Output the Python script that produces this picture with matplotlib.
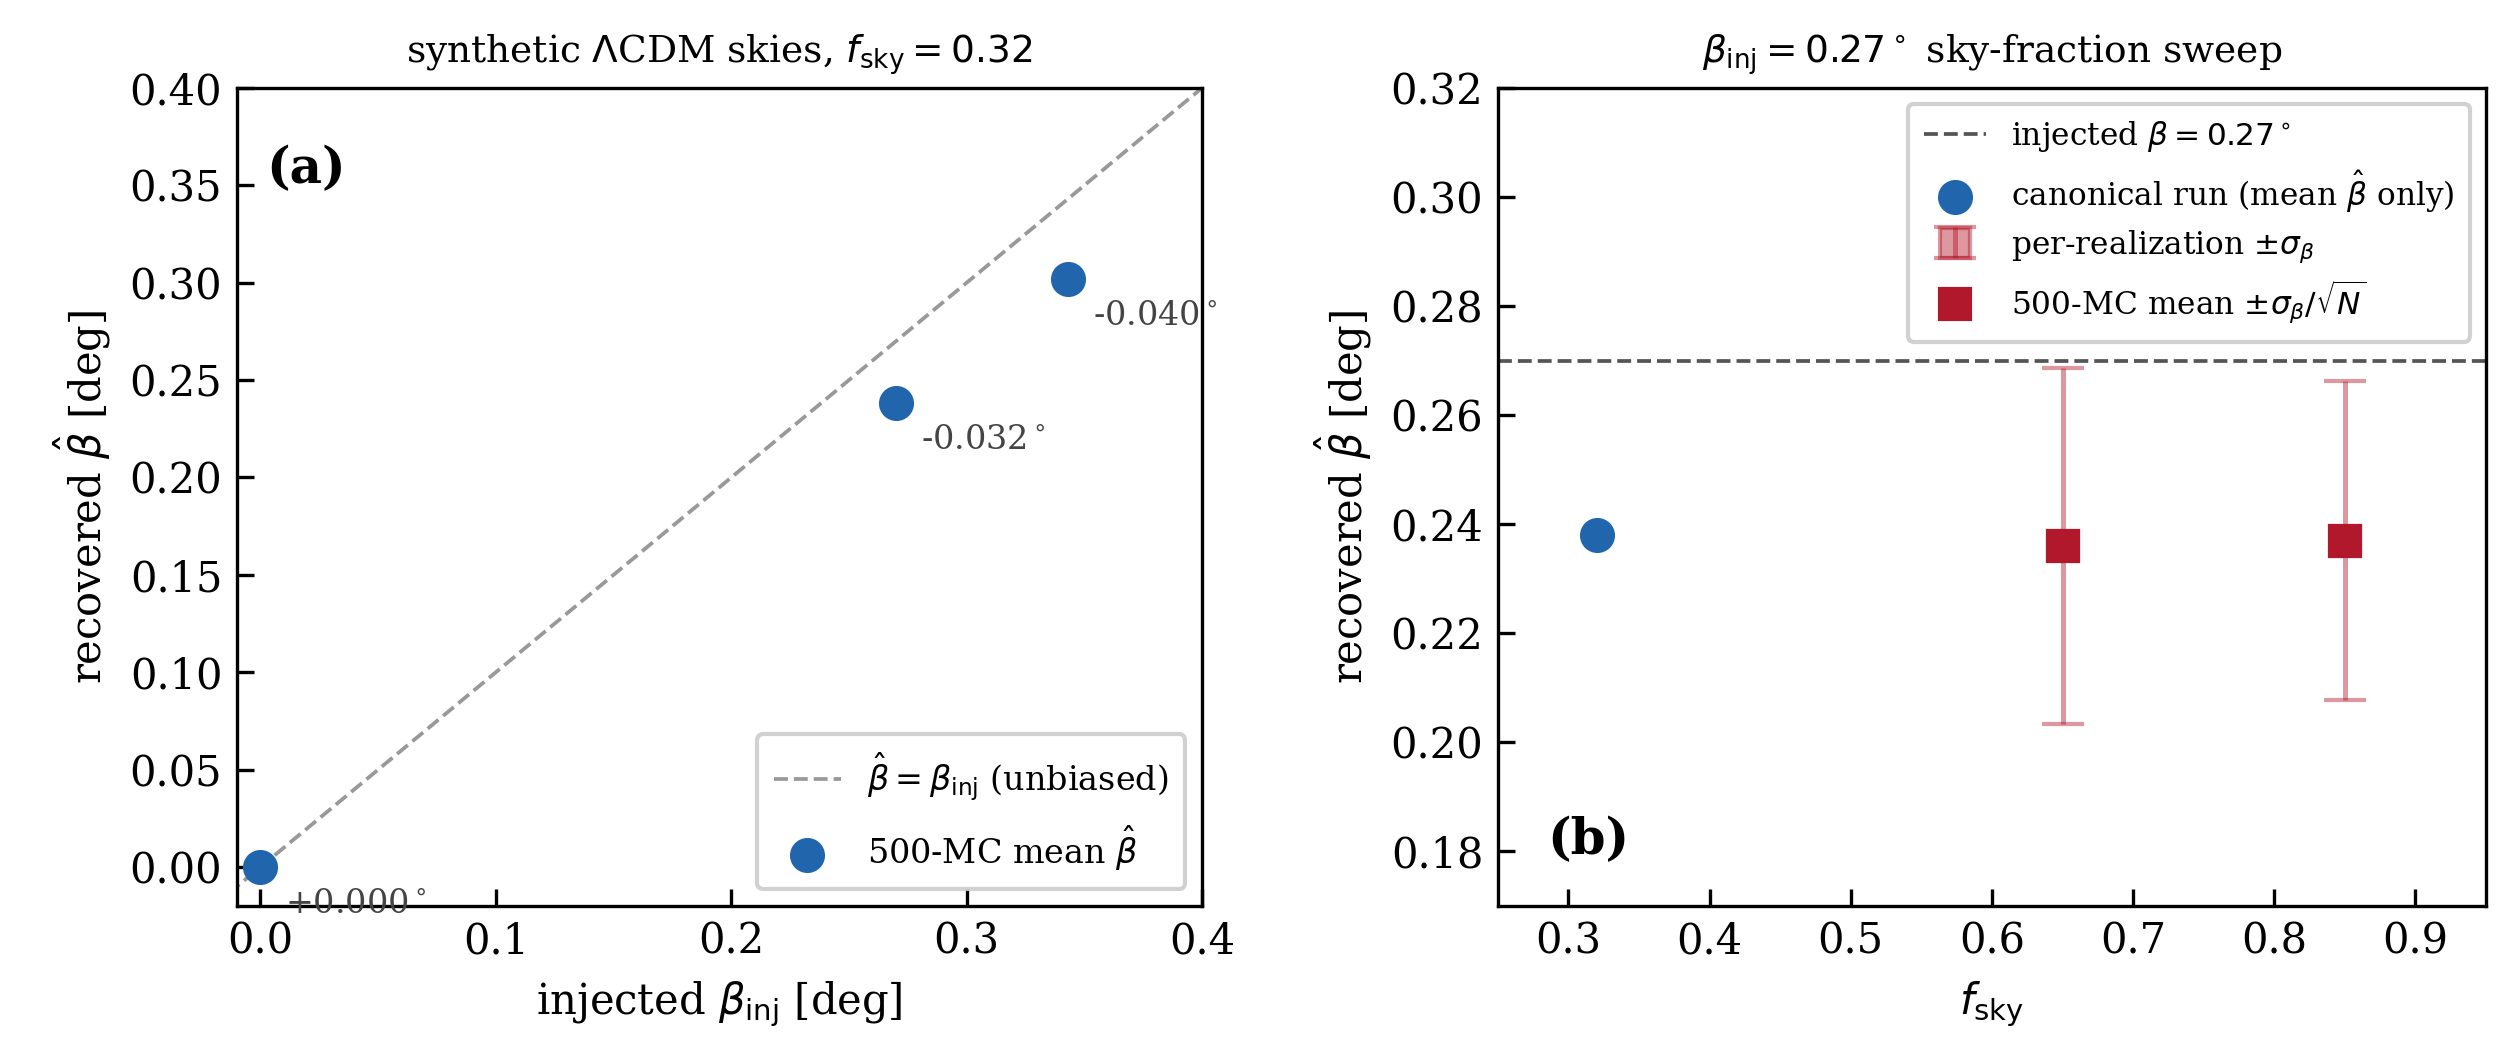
import numpy as np
import matplotlib
matplotlib.use("Agg")
import matplotlib.pyplot as plt

plt.rcParams['font.family'] = 'serif'
plt.rcParams['font.serif'] = ['DejaVu Serif']

# panel (a): injection-recovery
beta_inj = [0.0, 0.27, 0.343]
beta_rec = [0.0, 0.238, 0.302]
bias_labels = [r"+0.000$^\circ$", r"-0.032$^\circ$", r"-0.040$^\circ$"]

# panel (b): sky-fraction sweep
beta_true = 0.27
fsky_canon = [0.32]
beta_canon = [0.238]
fsky_mc = [0.65, 0.85]
beta_mc = [0.236, 0.237]
sigma_beta = [0.0327, 0.0292]
n_mc = 500

blue = "#2166ac"
red = "#b2182b"

fig = plt.figure(figsize=(8.383, 3.53), dpi=300)
ax1 = fig.add_axes([0.0942, 0.1445, 0.3838, 0.7725])
ax2 = fig.add_axes([0.5956, 0.1445, 0.3929, 0.7725])

def style_axes(ax):
    ax.tick_params(direction='in', labelsize=10, length=4, top=False, right=False)

# (a)
lim = np.array([-0.02, 0.4])
ax1.plot(lim, lim, ls='--', color='#999999', lw=0.9, label=r"$\hat\beta=\beta_{\rm inj}$ (unbiased)")
ax1.scatter(beta_inj, beta_rec, s=55, color=blue, zorder=3, label=r"500-MC mean $\hat\beta$")
for x, y, t in zip(beta_inj, beta_rec, bias_labels):
    ax1.annotate(t, (x, y), xytext=(6, -11), textcoords='offset points', fontsize=8, color='#444444')
ax1.set_xlim(-0.01, 0.4)
ax1.set_ylim(-0.02, 0.4)
ax1.set_xticks([0.0, 0.1, 0.2, 0.3, 0.4])
ax1.set_yticks(np.arange(0, 0.41, 0.05))
ax1.set_xlabel(r"injected $\beta_{\rm inj}$ [deg]", fontsize=10)
ax1.set_ylabel(r"recovered $\hat\beta$ [deg]", fontsize=10)
ax1.set_title(r"synthetic $\Lambda$CDM skies, $f_{\rm sky}=0.32$", fontsize=9)
ax1.text(0.03, 0.90, "(a)", transform=ax1.transAxes, fontsize=12, fontweight='bold', va='center')
ax1.legend(loc='lower right', fontsize=8, framealpha=0.9, borderpad=0.5, labelspacing=0.6)
style_axes(ax1)

# (b)
ax2.axhline(beta_true, ls='--', color='#555555', lw=0.9, label=r"injected $\beta=0.27^\circ$")
ax2.scatter(fsky_canon, beta_canon, s=55, color=blue, zorder=3, label=r"canonical run (mean $\hat\beta$ only)")
ax2.errorbar(fsky_mc, beta_mc, yerr=sigma_beta, fmt='s', color=red, alpha=0.45, capsize=5,
             markersize=7, lw=1.2, label=r"per-realization $\pm\sigma_\beta$")
ax2.errorbar(fsky_mc, beta_mc, yerr=np.array(sigma_beta) / np.sqrt(n_mc), fmt='s', color=red,
             capsize=0, markersize=7, lw=1.2, zorder=4, label=r"500-MC mean $\pm\sigma_\beta/\sqrt{N}$")
ax2.set_xlim(0.25, 0.95)
ax2.set_ylim(0.17, 0.32)
ax2.set_xticks(np.arange(0.3, 0.95, 0.1))
ax2.set_xticklabels(["0.3", "0.4", "0.5", "0.6", "0.7", "0.8", "0.9"])
ax2.set_yticks(np.arange(0.18, 0.321, 0.02))
ax2.set_xlabel(r"$f_{\rm sky}$", fontsize=10)
ax2.set_ylabel(r"recovered $\hat\beta$ [deg]", fontsize=10)
ax2.set_title(r"$\beta_{\rm inj}=0.27^\circ$ sky-fraction sweep", fontsize=9)
ax2.text(0.05, 0.08, "(b)", transform=ax2.transAxes, fontsize=12, fontweight='bold', va='center')
ax2.legend(loc='upper right', fontsize=7.5, framealpha=0.9, borderpad=0.5, labelspacing=0.45)
style_axes(ax2)

fig.savefig("out.png", dpi=300)
